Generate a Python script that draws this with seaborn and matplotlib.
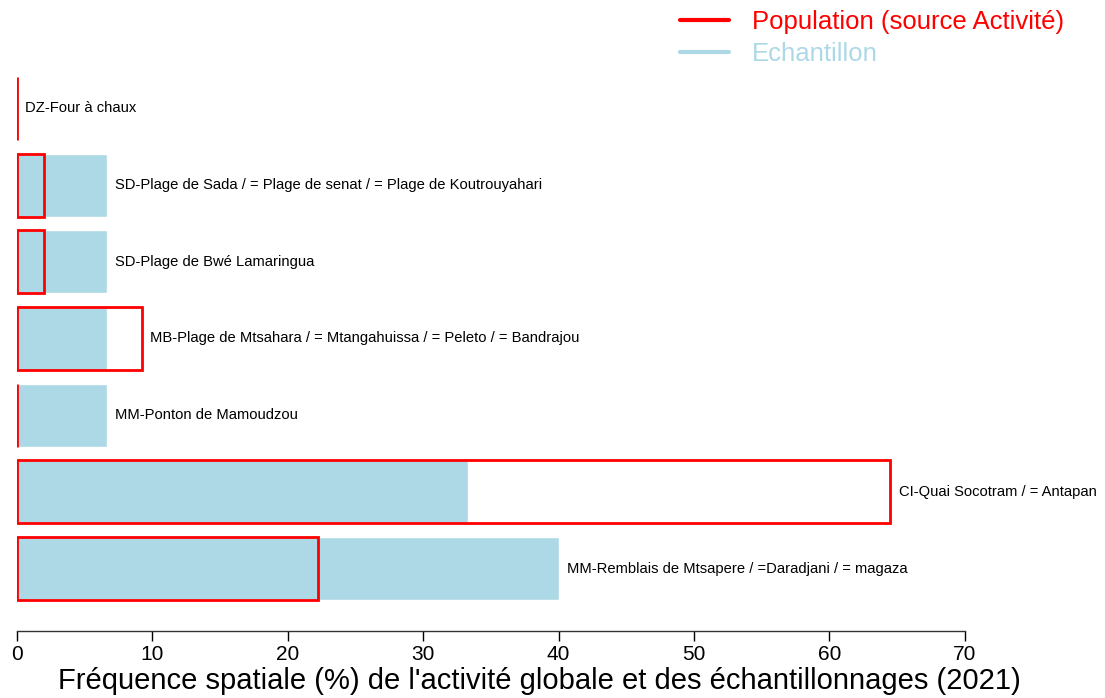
import seaborn as sns
import matplotlib.pyplot as plt
import pandas as pd
from matplotlib.lines import Line2D

sites = [
    "DZ-Four à chaux",
    "SD-Plage de Sada / = Plage de senat / = Plage de Koutrouyahari",
    "SD-Plage de Bwé Lamaringua",
    "MB-Plage de Mtsahara / = Mtangahuissa / = Peleto / = Bandrajou",
    "MM-Ponton de Mamoudzou",
    "CI-Quai Socotram / = Antapan",
    "MM-Remblais de Mtsapere / =Daradjani / = magaza",
]
echantillon = [0.0, 6.67, 6.67, 6.67, 6.67, 33.33, 40.0]
population = [0.0, 2.0, 2.0, 9.2, 0.0, 64.5, 22.2]

df = pd.DataFrame({"site": sites, "echantillon": echantillon, "population": population})

sns.set_style("white")
plt.rcParams["font.family"] = ["Liberation Sans", "DejaVu Sans"]
plt.rcParams["text.color"] = "black"

fig = plt.figure(figsize=(11.05, 6.98), dpi=100)
ax = fig.add_axes([17 / 1105, 1 - 631 / 698, (1061 - 17) / 1105, (631 - 77) / 698])

sns.barplot(data=df, y="site", x="echantillon", orient="h", color="lightblue",
            width=0.82, saturation=1, ax=ax)
sns.barplot(data=df, y="site", x="population", orient="h", fill=False, color="red",
            width=0.82, linewidth=2, saturation=1, ax=ax)

# labels to the right of the longest bar
for i, row in df.iterrows():
    xpos = max(row["echantillon"], row["population"]) + 0.6
    ax.text(xpos, i, row["site"], va="center", ha="left", fontsize=10.6,
            color="black", clip_on=False)

ax.set_xlim(0, 77.1)
ax.set_ylim(6.815, -0.41)
ax.set_xticks(range(0, 71, 10))
ax.tick_params(axis="x", length=7, width=1, direction="out", labelsize=15,
               colors="black", bottom=True, pad=3)
ax.set_yticks([])
ax.set_ylabel("")
ax.set_xlabel("Fréquence spatiale (%) de l'activité globale et des échantillonnages (2021)",
              fontsize=21, labelpad=2, color="black")
for s in ["top", "right", "left"]:
    ax.spines[s].set_visible(False)
ax.spines["bottom"].set_bounds(0, 70)
ax.spines["bottom"].set_color("#333333")
ax.spines["bottom"].set_linewidth(1)

handles = [Line2D([], [], color="red", lw=3), Line2D([], [], color="lightblue", lw=3)]
fig.legend(handles, ["Population (source Activité)", "Echantillon"], loc="upper left",
           bbox_to_anchor=(680 / 1105, 1 - 10 / 698), frameon=False, fontsize=18.5,
           labelcolor=["red", "lightblue"], handlelength=1.9, handletextpad=0.9,
           labelspacing=0.3, borderaxespad=0, borderpad=0)

fig.savefig("out.png", dpi=100)
